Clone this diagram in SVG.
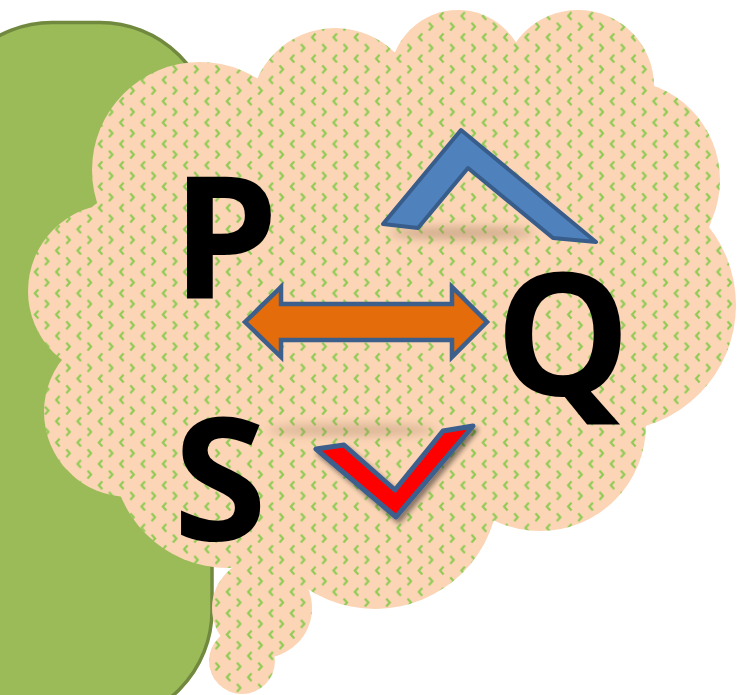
<svg xmlns="http://www.w3.org/2000/svg" width="752" height="695" viewBox="0 0 752 695">
  <style>
    .letter { font-family: "Open Sans", "Liberation Sans", sans-serif; font-weight: 700; font-size: 170px; fill: #000000; text-anchor: middle; }
    .chev { fill: none; stroke: #8CCB52; stroke-width: 2.1; stroke-linecap: square; stroke-linejoin: miter; }
    .cloud { fill: url(#divot); }
  </style>
  <defs>
    <pattern id="divot" width="21.33" height="21.33" patternUnits="userSpaceOnUse">
      <rect width="21.33" height="21.33" fill="#FBD5B5"/>
      <path class="chev" d="M3,2.2 L5.8,5.3 L3,8.4"/>
      <path class="chev" d="M16.3,12.9 L13.5,16 L16.3,19.1"/>
    </pattern>
    <filter id="blur6" x="-50%" y="-300%" width="200%" height="700%">
      <feGaussianBlur stdDeviation="5"/>
    </filter>
    <filter id="dropShadow" x="-20%" y="-20%" width="150%" height="160%">
      <feGaussianBlur in="SourceAlpha" stdDeviation="2.5"/>
      <feOffset dx="3" dy="4" result="b"/>
      <feComponentTransfer><feFuncA type="linear" slope="0.45"/></feComponentTransfer>
      <feMerge><feMergeNode/><feMergeNode in="SourceGraphic"/></feMerge>
    </filter>
  </defs>

  <!-- green rounded panel -->
  <g id="panel">
    <rect x="-60" y="22.5" width="272" height="700" rx="112" ry="112" fill="#9BBB59" stroke="#71893F" stroke-width="3.5"/>
  </g>

  <!-- thought cloud -->
  <g id="cloud" class="cloud">
    <circle cx="200" cy="170" r="108"/>
    <circle cx="335" cy="113" r="85"/>
    <circle cx="458" cy="78" r="68"/>
    <circle cx="578" cy="86" r="76"/>
    <circle cx="620" cy="180" r="100"/>
    <circle cx="610" cy="305" r="126"/>
    <circle cx="540" cy="425" r="106"/>
    <circle cx="375" cy="485" r="124"/>
    <circle cx="228" cy="452" r="116"/>
    <circle cx="129" cy="412" r="85"/>
    <circle cx="115" cy="291" r="87"/>
    <polygon points="92,207 257,79 395,52 516,42 654,85 711,222 639,425 494,517 277,562 123,497 62,360"/>
  </g>
  <g id="bubble1" class="cloud">
    <circle cx="262" cy="608" r="50"/>
  </g>
  <g id="bubble2" class="cloud">
    <circle cx="242" cy="661" r="33"/>
  </g>

  <!-- shadows -->
  <ellipse cx="462" cy="233" rx="72" ry="6" fill="#9C7A5C" opacity="0.45" filter="url(#blur6)"/>
  <ellipse cx="352" cy="430" rx="85" ry="6" fill="#9C7A5C" opacity="0.35" filter="url(#blur6)"/>

  <!-- up chevron -->
  <g id="up-chevron">
    <polygon points="383,224 461,130 596,242 553,238 468,168 418,228" fill="#4F81BD" stroke="#385D8A" stroke-width="4" stroke-linejoin="round"/>
  </g>

  <!-- down chevron (check) -->
  <g id="down-chevron" filter="url(#dropShadow)">
    <polygon points="316,449 344,445 395,490 443,431 473,426 396,517" fill="#FF0000" stroke="#3D5F8D" stroke-width="5" stroke-linejoin="round"/>
  </g>

  <!-- letters -->
  <g id="node-P"><text class="letter" x="225" y="298">P</text></g>
  <g id="node-Q"><text class="letter" x="563" y="395">Q</text></g>
  <g id="node-S"><text class="letter" x="220" y="540">S</text></g>

  <!-- connectors -->
  <g id="connectors">
    <polygon points="245,322 281,287 281,304 452,304 452,287 487,322 452,357 452,340 281,340 281,357" fill="#E46C0A" stroke="#3D5F8C" stroke-width="4.5" stroke-linejoin="miter"/>
  </g>
</svg>
